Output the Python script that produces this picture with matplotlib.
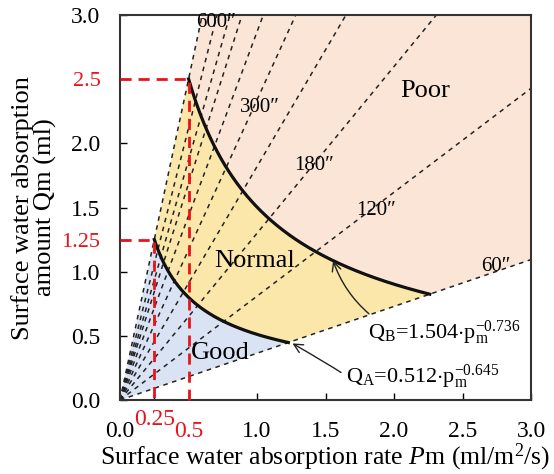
import numpy as np
import matplotlib
matplotlib.use("Agg")
import matplotlib.pyplot as plt
from matplotlib.transforms import blended_transform_factory

plt.rcParams['font.family'] = ['Liberation Serif', 'DejaVu Serif']
plt.rcParams['mathtext.fontset'] = 'custom'
plt.rcParams['mathtext.rm'] = 'Liberation Serif'
plt.rcParams['mathtext.it'] = 'Liberation Serif:italic'

# iso-time lines through the origin (Q = slope * P)
times = [60, 120, 180, 240, 300, 360, 420, 480, 540, 600]
slopes = [0.365, 0.81, 1.30, 1.82, 2.34, 2.87, 3.37, 3.74, 4.24, 5.0]

# labelled times and where their labels sit
label_times = [60, 120, 180, 300, 600]
label_x = [2.74, 1.87, 1.42, 1.02, 0.70]
label_y = [1.04, 1.48, 1.83, 2.28, 2.94]

# boundary curves Q = a * P^-b
qa_a, qa_b = 0.512, 0.645
qb_a, qb_b = 1.504, 0.736

# red guide values
guide_p = [0.25, 0.5]
guide_q = [1.25, 2.5]

s_lo, s_hi = slopes[0], slopes[-1]
RED = '#e8141b'


def cross(a, b, s):
    # where a * x^-b meets the line s * x
    return (a / s) ** (1.0 / (1.0 + b))


xa1, xa2 = cross(qa_a, qa_b, s_hi), cross(qa_a, qa_b, s_lo)
xb1, xb2 = cross(qb_a, qb_b, s_hi), cross(qb_a, qb_b, s_lo)
pa = np.linspace(xa1, xa2, 200)
pb = np.linspace(xb1, xb2, 200)
qa = qa_a * pa ** -qa_b
qb = qb_a * pb ** -qb_b

fig = plt.figure(figsize=(5.54, 4.74), dpi=100)
ax = fig.add_axes([0.2166, 0.156, 0.742, 0.812])

# regions
good_x = np.concatenate([[0], pa, [0]])
good_y = np.concatenate([[0], qa, [0]])
ax.fill(good_x, good_y, color='#dae3f3', lw=0, zorder=1)

norm_x = np.concatenate([pa[::-1], pb])
norm_y = np.concatenate([qa[::-1], qb])
ax.fill(norm_x, norm_y, color='#fbe7aa', lw=0, zorder=1)

poor_x = np.concatenate([pb, [3.0, 3.0, 3.0 / s_hi]])
poor_y = np.concatenate([qb, [3.0 * s_lo, 3.0, 3.0]])
ax.fill(poor_x, poor_y, color='#fbe5d6', lw=0, zorder=1)

# dashed time lines
for s in slopes:
    xe = min(3.0, 3.0 / s)
    ax.plot([0, xe], [0, s * xe], color='#222222', lw=1.1,
            ls=(0, (3, 3)), zorder=2)

for t, lx, ly in zip(label_times, label_x, label_y):
    ax.text(lx, ly, f'{t}\u2033', fontsize=15, ha='center', va='center',
            zorder=4)

# boundary curves
ax.plot(pa, qa, color='#111111', lw=2.3, zorder=3)
ax.plot(pb, qb, color='#111111', lw=2.3, zorder=3)

# red guides
for gp, gq in zip(guide_p, guide_q):
    ax.plot([0, gp, gp], [gq, gq, 0], color=RED, lw=2.0,
            ls=(0, (4, 2.5)), zorder=3, clip_on=False)

ax.text(0.98, 1.08, 'Normal', fontsize=19, ha='center', va='center', zorder=4)
ax.text(0.73, 0.37, 'Good', fontsize=19, ha='center', va='center', zorder=4)
ax.text(2.23, 2.41, 'Poor', fontsize=19, ha='center', va='center', zorder=4)

# formulas with arrows onto the curves
p_tip_b = 1.555
ax.annotate(r'Q$_\mathrm{B}$=1.504$\cdot$p$_\mathrm{m}^\mathrm{-0.736}$',
            xy=(p_tip_b, qb_a * p_tip_b ** -qb_b), xytext=(1.81, 0.52),
            fontsize=16, va='center', ha='left', zorder=5,
            arrowprops=dict(arrowstyle='->', color='#222222', lw=1.0,
                            shrinkA=3, shrinkB=0,
                            connectionstyle='arc3,rad=-0.15',
                            relpos=(0.05, 1.0)))
p_tip_a = xa2 + 0.03
ax.annotate(r'Q$_\mathrm{A}$=0.512$\cdot$p$_\mathrm{m}^\mathrm{-0.645}$',
            xy=(p_tip_a, qa_a * p_tip_a ** -qa_b), xytext=(1.65, 0.18),
            fontsize=16, va='center', ha='left', zorder=5,
            arrowprops=dict(arrowstyle='->', color='#222222', lw=1.0,
                            shrinkA=2, shrinkB=0,
                            connectionstyle='angle3,angleA=180,angleB=-30',
                            relpos=(0.0, 0.5)))

ax.set_xlim(0, 3)
ax.set_ylim(0, 3)

ax.set_xticks([0, 0.25, 0.5, 1.0, 1.5, 2.0, 2.5, 3.0])
ax.set_xticklabels(['0.0', '', '0.5', '1.0', '1.5', '2.0', '2.5', '3.0'])
ax.set_yticks([0, 0.5, 1.0, 1.25, 1.5, 2.0, 2.5, 3.0])
ax.set_yticklabels(['0.0', '0.5', '1.0', '1.25', '1.5', '2.0', '2.5', '3.0'])
ax.tick_params(direction='in', length=5, width=1, labelsize=17)
ax.tick_params(axis='x', pad=15)
ax.tick_params(axis='y', pad=14)
for lab in ax.get_xticklabels():
    if lab.get_text() == '0.5':
        lab.set_color(RED)
for lab in ax.get_yticklabels():
    if lab.get_text() in ('1.25', '2.5'):
        lab.set_color(RED)
        lab.set_fontsize(16)

# 0.25 sits higher so it clears the 0.0 label
trans = blended_transform_factory(ax.transData, ax.transAxes)
ax.text(guide_p[0], -0.022, '0.25', transform=trans, fontsize=17,
        color=RED, ha='center', va='top', clip_on=False)

for sp in ax.spines.values():
    sp.set_linewidth(1.5)
    sp.set_color('#333333')

ax.set_xlabel(r'Surface water absorption rate $P$m (ml/m$^2$/s)', fontsize=18.5,
              labelpad=0)
ax.set_ylabel('Surface water absorption\namount Qm (ml)', fontsize=19,
              labelpad=3, linespacing=1.0)

fig.savefig('out.png', dpi=100)
